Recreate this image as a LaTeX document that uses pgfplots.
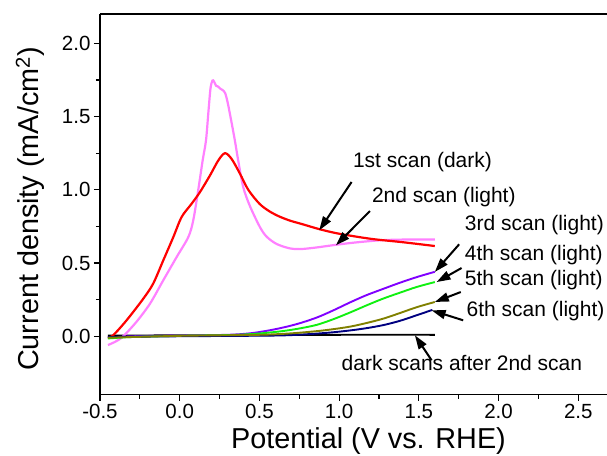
\documentclass[border=0pt]{standalone}
\usepackage{pgfplots}
\pgfplotsset{compat=1.18}
\usepackage{fontspec}
\setmainfont{Liberation Sans}
\usetikzlibrary{arrows.meta}

\definecolor{scanred}{HTML}{FF0000}
\definecolor{scanpink}{HTML}{FF80FF}
\definecolor{scanviolet}{HTML}{8000FF}
\definecolor{scangreen}{HTML}{10F010}
\definecolor{scanolive}{HTML}{808000}
\definecolor{scannavy}{HTML}{000080}

\newcommand{\annfont}{\fontsize{21}{25}\selectfont}

\begin{document}
\begin{tikzpicture}
\begin{axis}[
  name=ax,
  scale only axis,
  width=507.2pt, height=381pt,
  xmin=-0.5, xmax=2.68,
  ymin=-0.4, ymax=2.2,
  axis x line=box, axis y line=left,
  axis line style={-, line width=1.2pt},
  xtick pos=bottom,
  xtick={-0.5,0,...,2.5},
  ytick={0,0.5,...,2.0},
  minor x tick num=1, minor y tick num=1,
  tick align=outside,
  major tick length=6pt, minor tick length=4pt,
  every tick/.style={black, line width=1.2pt},
  /pgf/number format/assume math mode=true,
  ticklabel style={font=\fontsize{20.5}{24}\selectfont, /pgf/number format/.cd, fixed, fixed zerofill, precision=1},
  clip=false,
  every axis plot/.append style={line width=1.9pt, smooth, tension=0.5},
]

% dark scans after the 2nd scan
\addplot[black, no marks] coordinates {
 (-0.45,0.005) (0.0,0.006) (0.5,0.008) (1.0,0.01) (1.6,0.01)};

% 2nd scan (light)
\addplot[scanpink, no marks, line width=2.2pt] coordinates {
 (-0.45,-0.06) (-0.40,-0.035) (-0.354,0.0) (-0.27,0.1) (-0.186,0.223)
 (-0.103,0.382) (-0.019,0.541) (0.054,0.677) (0.085,0.791) (0.116,0.996)
 (0.144,1.2) (0.165,1.337) (0.18,1.53) (0.193,1.69) (0.205,1.745)
 (0.215,1.74) (0.228,1.71) (0.24,1.705) (0.255,1.69) (0.27,1.68)
 (0.285,1.66) (0.30,1.60) (0.32,1.49) (0.346,1.337) (0.367,1.2)
 (0.398,1.02) (0.44,0.89) (0.503,0.746) (0.545,0.68) (0.608,0.63)
 (0.69,0.60) (0.754,0.595) (0.85,0.605) (0.984,0.625) (1.1,0.64)
 (1.255,0.655) (1.4,0.66) (1.6,0.66)};

% 1st scan (dark)
\addplot[scanred, no marks, line width=2.2pt] coordinates {
 (-0.45,-0.01) (-0.417,0.007) (-0.333,0.109) (-0.228,0.257) (-0.166,0.36)
 (-0.103,0.518) (-0.04,0.677) (0.012,0.814) (0.075,0.905) (0.127,0.984)
 (0.19,1.098) (0.242,1.2) (0.284,1.25) (0.326,1.21) (0.378,1.11)
 (0.43,1.0) (0.50,0.905) (0.56,0.855) (0.62,0.82) (0.69,0.79)
 (0.77,0.765) (0.88,0.73) (1.0,0.70) (1.2,0.665) (1.4,0.642) (1.6,0.616)};

% 3rd scan (light)
\addplot[scanviolet, no marks] coordinates {
 (-0.45,-0.01) (-0.3,0.0) (0.0,0.005) (0.3,0.01) (0.44,0.02) (0.55,0.038)
 (0.65,0.06) (0.75,0.088) (0.86,0.128) (0.96,0.175) (1.07,0.232)
 (1.17,0.28) (1.28,0.325) (1.38,0.365) (1.49,0.405) (1.6,0.44)};

% 4th scan (light)
\addplot[scangreen, no marks] coordinates {
 (-0.45,-0.015) (-0.3,-0.005) (0.0,0.003) (0.3,0.008) (0.45,0.015)
 (0.55,0.024) (0.65,0.036) (0.75,0.053) (0.86,0.078) (0.96,0.115)
 (1.07,0.163) (1.17,0.21) (1.276,0.257) (1.38,0.297) (1.485,0.336) (1.6,0.37)};

% 6th scan (light)
\addplot[scannavy, no marks] coordinates {
 (-0.45,-0.005) (0.0,0.0) (0.6,0.005) (0.8,0.014) (0.95,0.026)
 (1.07,0.04) (1.17,0.055) (1.276,0.076) (1.38,0.105) (1.485,0.143) (1.585,0.18)};

% 5th scan (light)
\addplot[scanolive, no marks] coordinates {
 (-0.45,-0.01) (0.0,0.003) (0.5,0.01) (0.7,0.02) (0.86,0.035) (0.96,0.048)
 (1.07,0.066) (1.17,0.09) (1.276,0.12) (1.38,0.158) (1.485,0.198) (1.6,0.234)};

% annotations
\begin{scope}[every node/.style={anchor=base west, inner sep=0pt, font=\annfont}]
\node at (axis cs:1.086,1.153) {1st scan (dark)};
\node at (axis cs:1.205,0.916) {2nd scan (light)};
\node at (axis cs:1.788,0.723) {3rd scan (light)};
\node at (axis cs:1.788,0.518) {4th scan (light)};
\node at (axis cs:1.788,0.348) {5th scan (light)};
\node at (axis cs:1.799,0.132) {6th scan (light)};
\node at (axis cs:1.015,-0.232) {dark scans after 2nd scan};
\end{scope}

\begin{scope}[line width=2pt, -{Triangle[length=14pt,width=9pt]}]
\draw (axis cs:1.078,1.053) -- (axis cs:0.875,0.723);
\draw (axis cs:1.193,0.855) -- (axis cs:0.98,0.621);
\draw (axis cs:1.753,0.628) -- (axis cs:1.6,0.439);
\draw (axis cs:1.768,0.466) -- (axis cs:1.611,0.370);
\draw (axis cs:1.763,0.302) -- (axis cs:1.60,0.234);
\draw (axis cs:1.778,0.109) -- (axis cs:1.58,0.177);
\draw (axis cs:1.58,-0.164) -- (axis cs:1.475,0.007);
\end{scope}

% axis titles
\node[rotate=90, anchor=base, inner sep=0pt, font=\fontsize{28.8}{34}\selectfont]
  at ([xshift=-61pt]rel axis cs:0,0.488) {Current density (mA/cm\textsuperscript{2})};
\node[anchor=base, inner sep=0pt, font=\fontsize{28.8}{34}\selectfont]
  at ([yshift=-54pt]rel axis cs:0.5296,0) {Potential (V vs. RHE)};
\end{axis}
\pgfresetboundingbox
\path ([xshift=-100pt,yshift=-61pt]ax.south west) rectangle ([yshift=14pt]ax.north east);
\end{tikzpicture}
\end{document}
